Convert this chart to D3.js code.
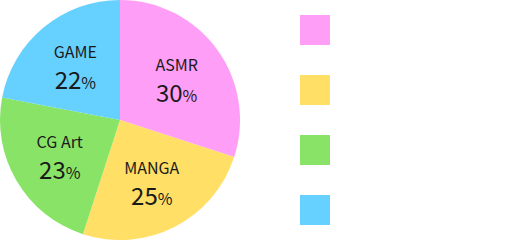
<!DOCTYPE html>
<html>
<head>
<meta charset="utf-8">
<script src="https://cdn.jsdelivr.net/npm/d3@7"></script>
<style>
  body { margin: 0; background: #fff; }
  text { font-family: "Noto Sans CJK JP", "Noto Sans", sans-serif; fill: #1a1a1a; }
</style>
</head>
<body>
<script>
var categories = ["ASMR", "MANGA", "CG Art", "GAME"];
var values = [30, 25, 23, 22];
var colors = ["#ff9ef6", "#ffdf66", "#88e366", "#66d1ff"];

var width = 531, height = 240;
var radius = 120;

var svg = d3.select("body")
            .append("svg")
            .attr("width", width)
            .attr("height", height);

var pie = d3.pie().sort(null).value(d => d.value);
var data = categories.map((c, i) => ({ name: c, value: values[i], color: colors[i] }));
var arcs = pie(data);

var arc = d3.arc().innerRadius(0).outerRadius(radius);
var labelArc = d3.arc().innerRadius(70).outerRadius(70);

var g = svg.append("g")
           .attr("transform", "translate(" + 120 + "," + 120 + ")");

g.selectAll("path")
 .data(arcs).enter()
 .append("path")
 .attr("d", arc)
 .attr("fill", d => d.data.color);

var labels = g.selectAll("g.label")
              .data(arcs).enter()
              .append("g")
              .attr("class", "label")
              .attr("transform", d => "translate(" + labelArc.centroid(d) + ")");

labels.append("text")
      .attr("text-anchor", "middle")
      .attr("y", -8)
      .style("font-size", "16px")
      .text(d => d.data.name);

var pct = labels.append("text")
                .attr("text-anchor", "middle")
                .attr("y", 23);
pct.append("tspan").style("font-size", "24px").text(d => d.data.value);
pct.append("tspan").style("font-size", "16px").text("%");

// legend swatches
var legend = d3.scaleBand()
               .domain(categories)
               .range([0, 240]);

svg.selectAll("rect.legend")
   .data(data).enter()
   .append("rect")
   .attr("class", "legend")
   .attr("x", 300)
   .attr("y", d => legend(d.name) + 15)
   .attr("width", 30)
   .attr("height", 30)
   .attr("fill", d => d.color);
</script>
</body>
</html>
